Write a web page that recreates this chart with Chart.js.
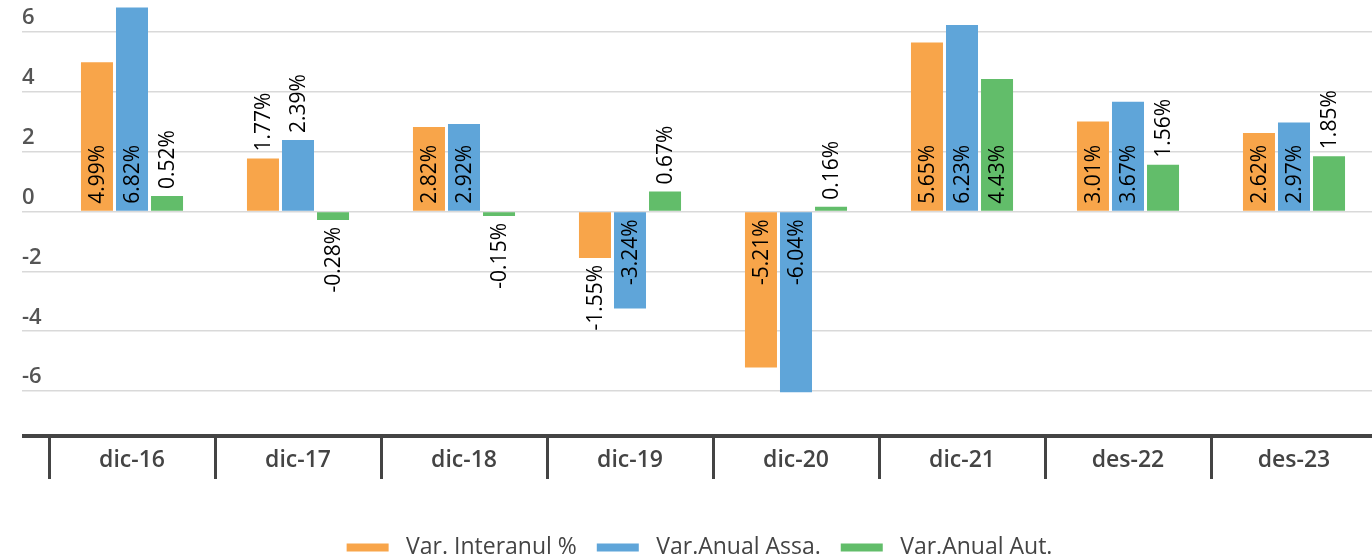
<!DOCTYPE html>
<html>
<head>
<meta charset="utf-8">
<script src="https://cdn.jsdelivr.net/npm/chart.js@4"></script>
<style>
  html, body { margin: 0; padding: 0; background: #fff; overflow: hidden; }
  #wrap { width: 1377px; height: 559px; }
</style>
</head>
<body>
<div id="wrap"><canvas id="chart" width="1377" height="559"></canvas></div>
<script>
const categories = ['dic-16', 'dic-17', 'dic-18', 'dic-19', 'dic-20', 'dic-21', 'des-22', 'des-23'];
const varInteranual = [4.99, 1.77, 2.82, -1.55, -5.21, 5.65, 3.01, 2.62];
const varAnualAssa = [6.82, 2.39, 2.92, -3.24, -6.04, 6.23, 3.67, 2.97];
const varAnualAut = [0.52, -0.28, -0.15, 0.67, 0.16, 4.43, 1.56, 1.85];
const seriesNames = ['Var. Interanul %', 'Var.Anual Assa.', 'Var.Anual Aut.'];
const yTicks = [-6, -4, -2, 0, 2, 4, 6];
const yMin = -7.5;
const yMax = 7;

const COLORS = ['#f8a54a', '#5fa5d9', '#62bd6a'];
const LABEL_FONT = '500 21px "Open Sans", sans-serif';

// etiquetas verticales: dentro en la base si caben, si no fuera del extremo
const barLabels = {
  id: 'barLabels',
  afterDatasetsDraw(chart) {
    const ctx = chart.ctx;
    ctx.save();
    ctx.font = LABEL_FONT;
    ctx.fillStyle = '#000';
    ctx.textBaseline = 'middle';
    chart.data.datasets.forEach((ds, di) => {
      const meta = chart.getDatasetMeta(di);
      meta.data.forEach((bar, i) => {
        const v = ds.data[i];
        const text = v.toFixed(2) + '%';
        const inside = Math.abs(v) > 2.5;
        const gap = 7;
        let y, align;
        if (v >= 0) {
          y = inside ? bar.base - gap : bar.y - gap;
          align = 'left';
        } else {
          y = inside ? bar.base + gap : bar.y + gap;
          align = 'right';
        }
        ctx.save();
        ctx.translate(bar.x + 1, y);
        ctx.rotate(-Math.PI / 2);
        ctx.textAlign = align;
        ctx.fillText(text, 0, 0);
        ctx.restore();
      });
    });
    ctx.restore();
  }
};

const ctx = document.getElementById('chart').getContext('2d');
new Chart(ctx, {
  type: 'bar',
  data: {
    labels: categories,
    datasets: [varInteranual, varAnualAssa, varAnualAut].map((d, i) => ({
      label: seriesNames[i],
      data: d,
      backgroundColor: COLORS[i],
      borderWidth: 0,
      categoryPercentage: 0.633,
      barPercentage: 0.914
    }))
  },
  options: {
    responsive: false,
    animation: false,
    devicePixelRatio: 1,
    layout: { padding: { left: 22, top: 2, right: 0, bottom: -10 } },
    plugins: {
      tooltip: { enabled: false },
      legend: {
        position: 'bottom',
        labels: {
          boxWidth: 42,
          boxHeight: 8,
          padding: 8,
          color: '#444',
          font: { family: '"Open Sans", sans-serif', size: 23 },
          generateLabels(chart) {
            return chart.data.datasets.map((ds, i) => ({
              text: ' ' + ds.label + (i < 2 ? '  ' : ''),
              fillStyle: ds.backgroundColor,
              strokeStyle: ds.backgroundColor,
              lineWidth: 0,
              datasetIndex: i,
              fontColor: '#444'
            }));
          }
        }
      }
    },
    scales: {
      x: {
        offset: true,
        afterFit(scale) { scale.height = 92; },
        border: { display: false },
        grid: {
          offset: true,
          drawOnChartArea: false,
          drawTicks: true,
          tickLength: 43,
          color: '#444',
          lineWidth: 3
        },
        ticks: {
          padding: -32,
          color: '#444',
          font: { family: '"Open Sans", sans-serif', size: 23, weight: '600' }
        }
      },
      y: {
        min: yMin,
        max: yMax,
        afterFit(scale) {
          scale.width = 27;
          scale.paddingTop = 0;
          scale.paddingBottom = 0;
        },
        afterBuildTicks(scale) {
          scale.ticks = yTicks.concat([yMin]).map(v => ({ value: v }));
        },
        border: { display: false },
        grid: {
          drawTicks: true,
          tickLength: 27,
          color: c => (c.tick && c.tick.value === yMin ? '#444' : '#d9d9d9'),
          lineWidth: c => (c.tick && c.tick.value === yMin ? 4 : 1.5)
        },
        ticks: {
          crossAlign: 'far',
          labelOffset: -14,
          color: '#555',
          font: { family: '"Open Sans", sans-serif', size: 22, weight: '600' },
          callback: v => (v === yMin ? '' : String(v))
        }
      }
    }
  },
  plugins: [barLabels]
});
</script>
</body>
</html>
